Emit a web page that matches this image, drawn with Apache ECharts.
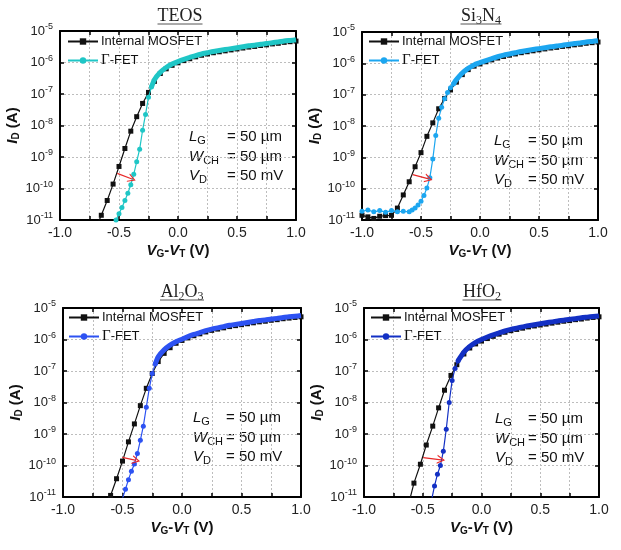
<!DOCTYPE html>
<html>
<head>
<meta charset="utf-8">
<script src="https://cdn.jsdelivr.net/npm/echarts@6/dist/echarts.min.js"></script>
<style>
html,body{margin:0;padding:0;background:#fff;}
#chart{width:621px;height:550px;}
</style>
</head>
<body>
<div id="chart"></div>
<script>
// ---- data: [V_G - V_T (V), log10(I_D / A)] ----
const teosMosfet = [[-0.70,-11.3],[-0.65,-10.85],[-0.60,-10.38],[-0.55,-9.86],[-0.50,-9.3],[-0.45,-8.73],[-0.40,-8.18],[-0.35,-7.72],[-0.30,-7.3],[-0.25,-6.95],[-0.20,-6.6],[-0.15,-6.35],[-0.10,-6.2],[-0.05,-6.09],[0,-6.01],[0.05,-5.94],[0.10,-5.88],[0.15,-5.82],[0.20,-5.77],[0.25,-5.73],[0.30,-5.69],[0.35,-5.66],[0.40,-5.63],[0.45,-5.6],[0.50,-5.57],[0.55,-5.54],[0.60,-5.51],[0.65,-5.49],[0.70,-5.46],[0.75,-5.44],[0.80,-5.41],[0.85,-5.39],[0.90,-5.36],[0.95,-5.34],[1.0,-5.32]];
const teosGammaSteep = [[-0.55,-11.3],[-0.525,-11.0],[-0.5,-10.8],[-0.475,-10.6],[-0.45,-10.38],[-0.425,-10.15],[-0.4,-9.88],[-0.375,-9.55],[-0.35,-9.15],[-0.325,-8.75],[-0.3,-8.15],[-0.275,-7.65],[-0.25,-7.1],[-0.225,-6.78]];
const teosGammaBand = [[-0.225,-6.78],[-0.2,-6.55],[-0.15,-6.31],[-0.1,-6.16],[-0.05,-6.05],[0,-5.97],[0.05,-5.9],[0.1,-5.84],[0.15,-5.78],[0.2,-5.73],[0.25,-5.69],[0.3,-5.65],[0.35,-5.62],[0.4,-5.59],[0.45,-5.56],[0.5,-5.53],[0.55,-5.5],[0.6,-5.47],[0.65,-5.45],[0.7,-5.42],[0.75,-5.4],[0.8,-5.37],[0.85,-5.35],[0.9,-5.32],[0.95,-5.3],[1.0,-5.28]];
const teosArrow = [[-0.515,-9.52],[-0.39,-9.7]];

const si3n4Mosfet = [[-1.0,-10.85],[-0.95,-10.9],[-0.9,-10.95],[-0.85,-10.88],[-0.8,-10.86],[-0.75,-10.85],[-0.7,-10.62],[-0.65,-10.2],[-0.6,-9.78],[-0.55,-9.3],[-0.5,-8.85],[-0.45,-8.33],[-0.4,-7.9],[-0.35,-7.45],[-0.3,-7.12],[-0.25,-6.85],[-0.2,-6.6],[-0.15,-6.36],[-0.1,-6.2],[-0.05,-6.09],[0,-6.02],[0.05,-5.95],[0.1,-5.89],[0.15,-5.83],[0.2,-5.78],[0.25,-5.74],[0.3,-5.7],[0.35,-5.66],[0.4,-5.63],[0.45,-5.6],[0.5,-5.57],[0.55,-5.54],[0.6,-5.51],[0.65,-5.49],[0.7,-5.46],[0.75,-5.44],[0.8,-5.41],[0.85,-5.39],[0.9,-5.36],[0.95,-5.34],[1.0,-5.32]];
const si3n4GammaSteep = [[-1.0,-10.72],[-0.95,-10.68],[-0.9,-10.74],[-0.85,-10.7],[-0.8,-10.75],[-0.75,-10.7],[-0.7,-10.74],[-0.65,-10.72],[-0.6,-10.74],[-0.575,-10.68],[-0.55,-10.62],[-0.525,-10.52],[-0.5,-10.4],[-0.475,-10.22],[-0.45,-9.98],[-0.425,-9.65],[-0.4,-9.05],[-0.375,-8.3],[-0.35,-7.75],[-0.325,-7.4],[-0.3,-7.13],[-0.275,-6.93],[-0.25,-6.78],[-0.225,-6.66]];
const si3n4GammaBand = [[-0.225,-6.66],[-0.2,-6.52],[-0.15,-6.31],[-0.1,-6.16],[-0.05,-6.05],[0,-5.98],[0.05,-5.91],[0.1,-5.85],[0.15,-5.79],[0.2,-5.74],[0.25,-5.7],[0.3,-5.66],[0.35,-5.62],[0.4,-5.59],[0.45,-5.56],[0.5,-5.53],[0.55,-5.5],[0.6,-5.47],[0.65,-5.45],[0.7,-5.42],[0.75,-5.4],[0.8,-5.37],[0.85,-5.35],[0.9,-5.32],[0.95,-5.3],[1.0,-5.28]];
const si3n4Arrow = [[-0.57,-9.55],[-0.435,-9.69]];

const al2o3Mosfet = [[-0.65,-11.5],[-0.6,-10.95],[-0.55,-10.42],[-0.5,-9.86],[-0.45,-9.25],[-0.4,-8.68],[-0.35,-8.1],[-0.3,-7.55],[-0.25,-7.08],[-0.2,-6.7],[-0.15,-6.44],[-0.1,-6.26],[-0.05,-6.12],[0,-6.03],[0.05,-5.95],[0.1,-5.88],[0.15,-5.82],[0.2,-5.76],[0.25,-5.71],[0.3,-5.67],[0.35,-5.63],[0.4,-5.59],[0.45,-5.56],[0.5,-5.53],[0.55,-5.5],[0.6,-5.47],[0.65,-5.44],[0.7,-5.42],[0.75,-5.39],[0.8,-5.37],[0.85,-5.34],[0.9,-5.32],[0.95,-5.3],[1.0,-5.28]];
const al2o3GammaSteep = [[-0.525,-11.4],[-0.5,-11.05],[-0.475,-10.75],[-0.45,-10.45],[-0.425,-10.18],[-0.4,-9.95],[-0.375,-9.62],[-0.35,-9.2],[-0.325,-8.75],[-0.3,-8.15],[-0.275,-7.55],[-0.25,-7.08],[-0.225,-6.78]];
const al2o3GammaBand = [[-0.225,-6.78],[-0.2,-6.55],[-0.15,-6.33],[-0.1,-6.18],[-0.05,-6.07],[0,-5.99],[0.05,-5.91],[0.1,-5.84],[0.15,-5.78],[0.2,-5.72],[0.25,-5.67],[0.3,-5.63],[0.35,-5.59],[0.4,-5.55],[0.45,-5.52],[0.5,-5.49],[0.55,-5.46],[0.6,-5.43],[0.65,-5.4],[0.7,-5.38],[0.75,-5.35],[0.8,-5.33],[0.85,-5.3],[0.9,-5.28],[0.95,-5.26],[1.0,-5.24]];
const al2o3Arrow = [[-0.502,-9.74],[-0.385,-9.84]];

const hfo2Mosfet = [[-0.625,-11.3],[-0.575,-10.56],[-0.52,-9.96],[-0.47,-9.35],[-0.415,-8.75],[-0.365,-8.17],[-0.315,-7.61],[-0.26,-7.14],[-0.21,-6.8],[-0.15,-6.46],[-0.1,-6.27],[-0.05,-6.14],[0,-6.05],[0.05,-5.97],[0.1,-5.9],[0.15,-5.83],[0.2,-5.77],[0.25,-5.72],[0.3,-5.68],[0.35,-5.64],[0.4,-5.6],[0.45,-5.57],[0.5,-5.54],[0.55,-5.51],[0.6,-5.48],[0.65,-5.45],[0.7,-5.42],[0.75,-5.4],[0.8,-5.37],[0.85,-5.35],[0.9,-5.32],[0.95,-5.3],[1.0,-5.28]];
const hfo2GammaSteep = [[-0.44,-11.4],[-0.425,-11.1],[-0.4,-10.65],[-0.375,-10.28],[-0.35,-10.0],[-0.325,-9.55],[-0.3,-8.85],[-0.275,-8.0],[-0.25,-7.3],[-0.225,-6.92],[-0.2,-6.68]];
const hfo2GammaBand = [[-0.2,-6.68],[-0.15,-6.4],[-0.1,-6.22],[-0.05,-6.09],[0,-6.0],[0.05,-5.92],[0.1,-5.85],[0.15,-5.79],[0.2,-5.73],[0.25,-5.68],[0.3,-5.64],[0.35,-5.6],[0.4,-5.56],[0.45,-5.53],[0.5,-5.5],[0.55,-5.47],[0.6,-5.44],[0.65,-5.41],[0.7,-5.39],[0.75,-5.36],[0.8,-5.34],[0.85,-5.31],[0.9,-5.29],[0.95,-5.27],[1.0,-5.25]];
const hfo2Arrow = [[-0.496,-9.75],[-0.344,-9.82]];

const yTicks = [-11,-10,-9,-8,-7,-6,-5];       // exponents of decade tick labels
const xTickLabels = [-1.0,-0.5,0.0,0.5,1.0];
const paramLabels = ['{i|L}{s|G}','{i|W}{s|CH}','{i|V}{s|D}'];
const paramValues = ['= 50 µm','= 50 µm','= 50 mV'];

// ---- layout / style ----
const SANS = '"Liberation Sans", Arial, sans-serif';
const SERIF = '"Liberation Serif", "Times New Roman", serif';
const panels = [
  {key:'TEOS', title:'TEOS', color:'#1FC6C6', mos:teosMosfet, steep:teosGammaSteep, band:teosGammaBand, arrow:teosArrow,
   grid:{left:60,top:31,width:236,height:189}, tx:180, ty:16, tw:45, lg:{left:67,top:35}, ann:{x:189,xe:227,ys:[137,157,176]}},
  {key:'Si3N4', title:'Si{s|3}N{s|4}', color:'#1CA6F0', mos:si3n4Mosfet, steep:si3n4GammaSteep, band:si3n4GammaBand, arrow:si3n4Arrow,
   grid:{left:362,top:32,width:236,height:188}, tx:481, ty:16, tw:41, lg:{left:368,top:35}, ann:{x:494,xe:528,ys:[141,161,180]}},
  {key:'Al2O3', title:'Al{s|2}O{s|3}', color:'#2D52F2', mos:al2o3Mosfet, steep:al2o3GammaSteep, band:al2o3GammaBand, arrow:al2o3Arrow,
   grid:{left:63,top:308,width:238,height:189}, tx:182, ty:292, tw:44, lg:{left:68,top:311}, ann:{x:193,xe:226,ys:[418,438,457]}},
  {key:'HfO2', title:'HfO{s|2}', color:'#1330C4', mos:hfo2Mosfet, steep:hfo2GammaSteep, band:hfo2GammaBand, arrow:hfo2Arrow,
   grid:{left:364,top:308,width:235,height:189}, tx:482, ty:292, tw:39, lg:{left:370,top:311}, ann:{x:495,xe:528,ys:[419,439,458]}}
];

const chevron = 'path://M5,0 L10,11 L8.6,11 L5,3.2 L1.4,11 L0,11 Z';
const grids = [], xAxes = [], yAxes = [], series = [], legends = [], graphics = [];

panels.forEach((p, i) => {
  grids.push(Object.assign({containLabel:false}, p.grid));
  const xBase = {gridIndex:i, type:'value', min:-1, max:1, interval:0.25,
    axisLine:{show:true, onZero:false, lineStyle:{color:'#000', width:2}},
    axisTick:{show:true, inside:true, length:4, lineStyle:{color:'#000', width:1.5}}};
  xAxes.push(Object.assign({}, xBase, {position:'bottom',
    axisLabel:{show:true, margin:6, color:'#222', fontSize:14, fontFamily:SANS,
      formatter: v => xTickLabels.some(t => Math.abs(t - v) < 1e-6) ? v.toFixed(1) : ''},
    splitLine:{show:true, lineStyle:{color:'#bdbdbd', type:[2,2], width:1}},
    name:'{bi|V}{bs|G}{b|-}{bi|V}{bs|T}{b| (V)}', nameLocation:'middle', nameGap:22,
    nameTextStyle:{rich:{
      b:{fontFamily:SANS, fontSize:15, fontWeight:'bold', color:'#111'},
      bi:{fontFamily:SANS, fontSize:15, fontWeight:'bold', fontStyle:'italic', color:'#111'},
      bs:{fontFamily:SANS, fontSize:10, fontWeight:'bold', color:'#111', padding:[7,0,0,0]}}}}));
  xAxes.push(Object.assign({}, xBase, {position:'top', axisLabel:{show:false}, splitLine:{show:false}}));
  const yBase = {gridIndex:i, type:'value', min:-11, max:-5, interval:1,
    axisLine:{show:true, onZero:false, lineStyle:{color:'#000', width:2}},
    axisTick:{show:true, inside:true, length:4, lineStyle:{color:'#000', width:1.5}}};
  yAxes.push(Object.assign({}, yBase, {position:'left',
    axisLabel:{show:true, margin:7, color:'#222', fontSize:13, fontFamily:SANS,
      formatter: v => yTicks.includes(v) ? '10{sup|' + v + '}' : '',
      rich:{sup:{fontSize:9, fontFamily:SANS, color:'#222', padding:[0,0,8,0]}}},
    splitLine:{show:true, lineStyle:{color:'#bdbdbd', type:[2,2], width:1}},
    name:'{bi|I}{bs|D}{b| (A)}', nameLocation:'middle', nameRotate:90, nameGap:38,
    nameTextStyle:{rich:{
      b:{fontFamily:SANS, fontSize:15, fontWeight:'bold', color:'#111'},
      bi:{fontFamily:SANS, fontSize:15, fontWeight:'bold', fontStyle:'italic', color:'#111'},
      bs:{fontFamily:SANS, fontSize:10, fontWeight:'bold', color:'#111', padding:[7,0,0,0]}}}}));
  yAxes.push(Object.assign({}, yBase, {position:'right', axisLabel:{show:false}, splitLine:{show:false}}));

  const xi = 2*i, yi = 2*i;
  series.push({type:'line', name:'Internal MOSFET|' + p.key, xAxisIndex:xi, yAxisIndex:yi, data:p.mos,
    symbol:'rect', symbolSize:5, lineStyle:{color:'#111', width:1.2}, itemStyle:{color:'#111'}, z:2, animation:false});
  series.push({type:'line', name:'band|' + p.key, xAxisIndex:xi, yAxisIndex:yi, data:p.band,
    symbol:'none', smooth:0.2, lineStyle:{color:p.color, width:5}, itemStyle:{color:p.color}, z:3, animation:false});
  series.push({type:'line', name:'\u0393-FET|' + p.key, xAxisIndex:xi, yAxisIndex:yi, data:p.steep,
    symbol:'circle', symbolSize:5, lineStyle:{color:p.color, width:1.2}, itemStyle:{color:p.color}, z:4, animation:false,
    markLine:{silent:true, animation:false, symbol:['none', chevron], symbolSize:[9,8],
      label:{show:false}, lineStyle:{color:'#E82828', width:1.2, type:'solid'},
      itemStyle:{color:'#E82828'}, emphasis:{disabled:true},
      data:[[{coord:p.arrow[0]},{coord:p.arrow[1]}]]}});

  legends.push({orient:'vertical', left:p.lg.left, top:p.lg.top, padding:0, itemWidth:30, itemHeight:8, itemGap:5,
    selectedMode:false, data:['Internal MOSFET|' + p.key, '\u0393-FET|' + p.key],
    formatter: n => n.startsWith('\u0393') ? '{g|\u0393}-FET' : 'Internal MOSFET',
    textStyle:{fontFamily:SANS, fontSize:13, color:'#111', padding:[0,0,0,-2],
      rich:{g:{fontFamily:SERIF, fontSize:15, color:'#111'}}}});

  // panel title with underline
  graphics.push({type:'text', silent:true, style:{text:p.title, x:p.tx, y:p.ty, align:'center', verticalAlign:'middle',
    fontFamily:SERIF, fontSize:18, fill:'#222',
    rich:{s:{fontFamily:SERIF, fontSize:12, fill:'#222', padding:[9,0,0,0]}}}});
  graphics.push({type:'line', silent:true, shape:{x1:p.tx - p.tw/2, y1:p.ty + 8, x2:p.tx + p.tw/2, y2:p.ty + 8},
    style:{stroke:'#555', lineWidth:1}});
  // parameter annotation
  p.ann.ys.forEach((y, k) => {
    graphics.push({type:'text', silent:true, style:{text:paramLabels[k], x:p.ann.x, y:y, align:'left', verticalAlign:'middle',
      fontFamily:SANS, fontSize:15, fill:'#111',
      rich:{i:{fontFamily:SANS, fontSize:15, fontStyle:'italic', fill:'#111'},
            s:{fontFamily:SANS, fontSize:11, fill:'#111', padding:[7,0,0,0]}}}});
    graphics.push({type:'text', silent:true, style:{text:paramValues[k], x:p.ann.xe, y:y, align:'left', verticalAlign:'middle',
      fontFamily:SANS, fontSize:15, fill:'#111'}});
  });
});

const chart = echarts.init(document.getElementById('chart'), null, {renderer:'canvas'});
chart.setOption({
  backgroundColor:'#fff',
  animation:false,
  grid:grids, xAxis:xAxes, yAxis:yAxes, series:series, legend:legends, graphic:graphics
});
</script>
</body>
</html>
